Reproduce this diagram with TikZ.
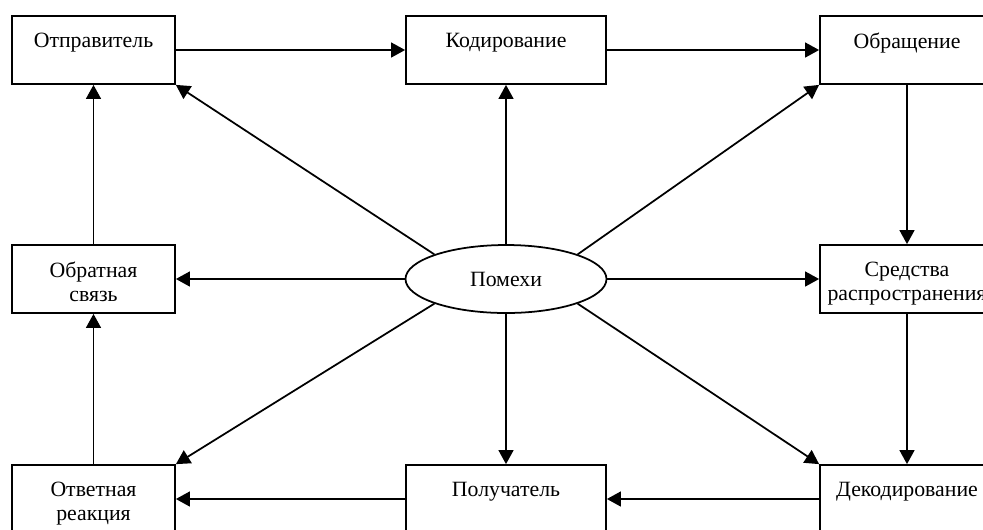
\documentclass[tikz,border=0pt]{standalone}
\usepackage{fontspec}
\setmainfont{Liberation Serif}
\usetikzlibrary{positioning, shapes.geometric, arrows.meta}
\tikzstyle{block} = [rectangle, minimum width=3.26cm, minimum height=1.36cm, draw=black, line width=1pt]
\tikzstyle{wide} = [block, minimum width=4cm]
\tikzstyle{side} = [block, minimum width=3.48cm]
\tikzstyle{caption} = [anchor=north, yshift=-10pt, inner sep=0pt, align=center]
\tikzstyle{oval} = [ellipse, minimum width=4.02cm, minimum height=1.36cm, draw=black, line width=1pt]
\tikzstyle{arrow} = [-{Triangle[length=8pt, width=8.5pt]}, line width=1pt]

\begin{document}
\begin{tikzpicture}[node distance=4.4cm, font=\fontsize{12.4}{13.7}\selectfont]
  \clip (0,0) rectangle (19.66,-10.58);
  %定义各个方框
  \node (sender) [block, label={[caption]north:Отправитель}] at (1.87,-1.0) {};
  \node (encoding) [wide, right of=sender, xshift=3.85cm, label={[caption]north:Кодирование}] {};
  \node (message) [side, right of=encoding, xshift=3.62cm, label={[caption]north:Обращение}] {};
  \node (feedback) [block, below of=sender, yshift=-0.18cm, label={[caption]north:Обратная\\связь}] {};
  \node (noise) [oval, below of=encoding, yshift=-0.18cm] {Помехи};
  \node (medium) [side, below of=message, yshift=-0.18cm, label={[caption]north:Средства\\распространения}] {};
  \node (response) [block, below of=feedback, label={[caption]north:Ответная\\реакция}] {};
  \node (receiver) [wide, below of=noise, label={[caption]north:Получатель}] {};
  \node (decoding) [side, below of=medium, label={[caption]north:Декодирование}] {};

  %连接箭头
  \draw [arrow](sender) -- (encoding);
  \draw [arrow](encoding) -- (message);
  \draw [arrow](message) -- (medium);
  \draw [arrow](medium) -- (decoding);
  \draw [arrow](decoding) -- (receiver);
  \draw [arrow](receiver) -- (response);
  \draw [arrow](response) -- (feedback);
  \draw [arrow](feedback) -- (sender);

  %помехи
  \draw [arrow](noise.north west) -- (sender.south east);
  \draw [arrow](noise) -- (encoding);
  \draw [arrow](noise.north east) -- (message.south west);
  \draw [arrow](noise) -- (feedback);
  \draw [arrow](noise) -- (medium);
  \draw [arrow](noise.south west) -- (response.north east);
  \draw [arrow](noise) -- (receiver);
  \draw [arrow](noise.south east) -- (decoding.north west);
\end{tikzpicture}
\end{document}
